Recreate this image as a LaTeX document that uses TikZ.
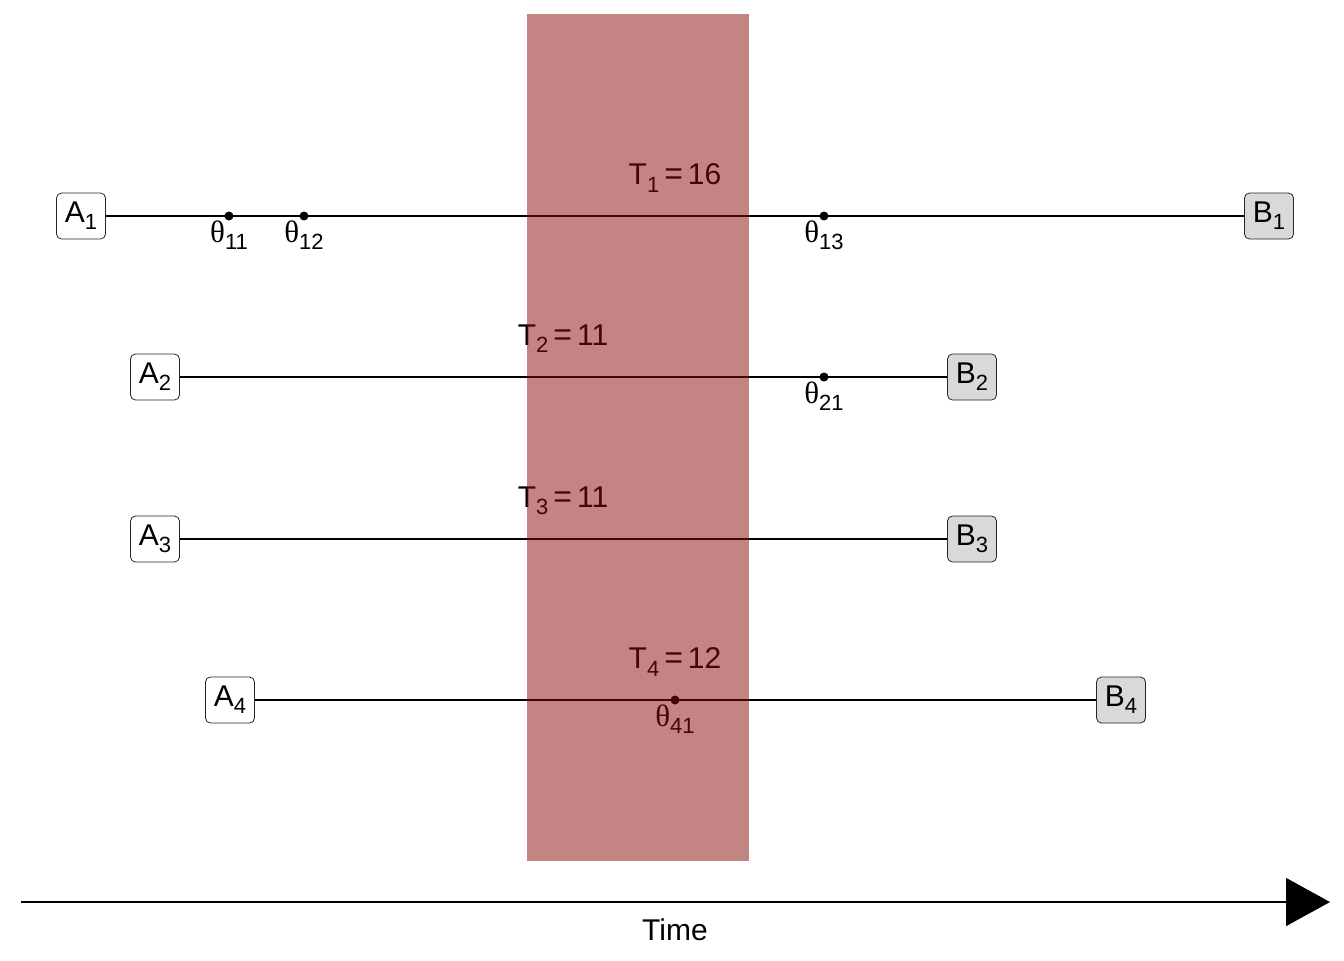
\documentclass[tikz,border=0pt]{standalone}
\usepackage{fontspec}
\setmainfont{Liberation Sans}
\newfontfamily\grk{Liberation Serif}
\usetikzlibrary{arrows.meta}
\definecolor{bandred}{RGB}{139,10,10}
\definecolor{boxgray}{RGB}{217,217,217}
\newcommand{\sbs}[1]{\raisebox{-0.45ex}{\fontsize{11pt}{12pt}\selectfont #1}}
\newcommand{\thl}[1]{{\grk\fontsize{15.5pt}{17pt}\selectfont θ}\sbs{#1}}
\newcommand{\Tl}[2]{T\sbs{#1}\,{\fontsize{16pt}{18pt}\selectfont =}\,#2}
\begin{document}
\begin{tikzpicture}[x=0.5pt,y=-0.5pt,
  every node/.style={font=\fontsize{15pt}{17pt}\selectfont},
  abox/.style={draw=black!85, rounded corners=2.5pt, fill=white, minimum width=24.5pt, minimum height=23pt, inner sep=0pt, line width=0.4pt},
  bbox/.style={abox, fill=boxgray},
  tl/.style={line width=0.8pt},
  dot/.style={circle, fill=black, inner sep=0pt, minimum size=4.5pt},
  lab/.style={inner sep=0pt}]
\useasboundingbox (0,0) rectangle (1344,960);
% line 1
\node[abox] (A1) at (81,216) {A\sbs{1}};
\node[bbox] (B1) at (1269,216) {B\sbs{1}};
\draw[tl] (A1.east) -- (B1.west);
\node[dot] (p11) at (229,216) {};
\node[dot] (p12) at (304,216) {};
\node[dot] (p13) at (824,216) {};
\node[lab] at (229,235) {\thl{11}};
\node[lab] at (304,235) {\thl{12}};
\node[lab] at (824,235) {\thl{13}};
\node[lab] at (675,178) {\Tl{1}{16}};
% line 2
\node[abox] (A2) at (155,377) {A\sbs{2}};
\node[bbox] (B2) at (972,377) {B\sbs{2}};
\draw[tl] (A2.east) -- (B2.west);
\node[dot] (p21) at (824,377) {};
\node[lab] at (824,396) {\thl{21}};
\node[lab] at (563,339) {\Tl{2}{11}};
% line 3
\node[abox] (A3) at (155,539) {A\sbs{3}};
\node[bbox] (B3) at (972,539) {B\sbs{3}};
\draw[tl] (A3.east) -- (B3.west);
\node[lab] at (563,501) {\Tl{3}{11}};
% line 4
\node[abox] (A4) at (230,700) {A\sbs{4}};
\node[bbox] (B4) at (1121,700) {B\sbs{4}};
\draw[tl] (A4.east) -- (B4.west);
\node[dot] (p41) at (675,700) {};
\node[lab] at (675,719) {\thl{41}};
\node[lab] at (675,662) {\Tl{4}{12}};
% band
\fill[bandred, opacity=0.5] (527,14) rectangle (749,861);
% time axis
\coordinate (t0) at (21,902);
\coordinate (t1) at (1330,902);
\draw[tl, -{Triangle[length=22pt,width=24pt]}] (t0) -- (t1);
\node[lab] at (675,930) {Time};
\end{tikzpicture}
\end{document}
